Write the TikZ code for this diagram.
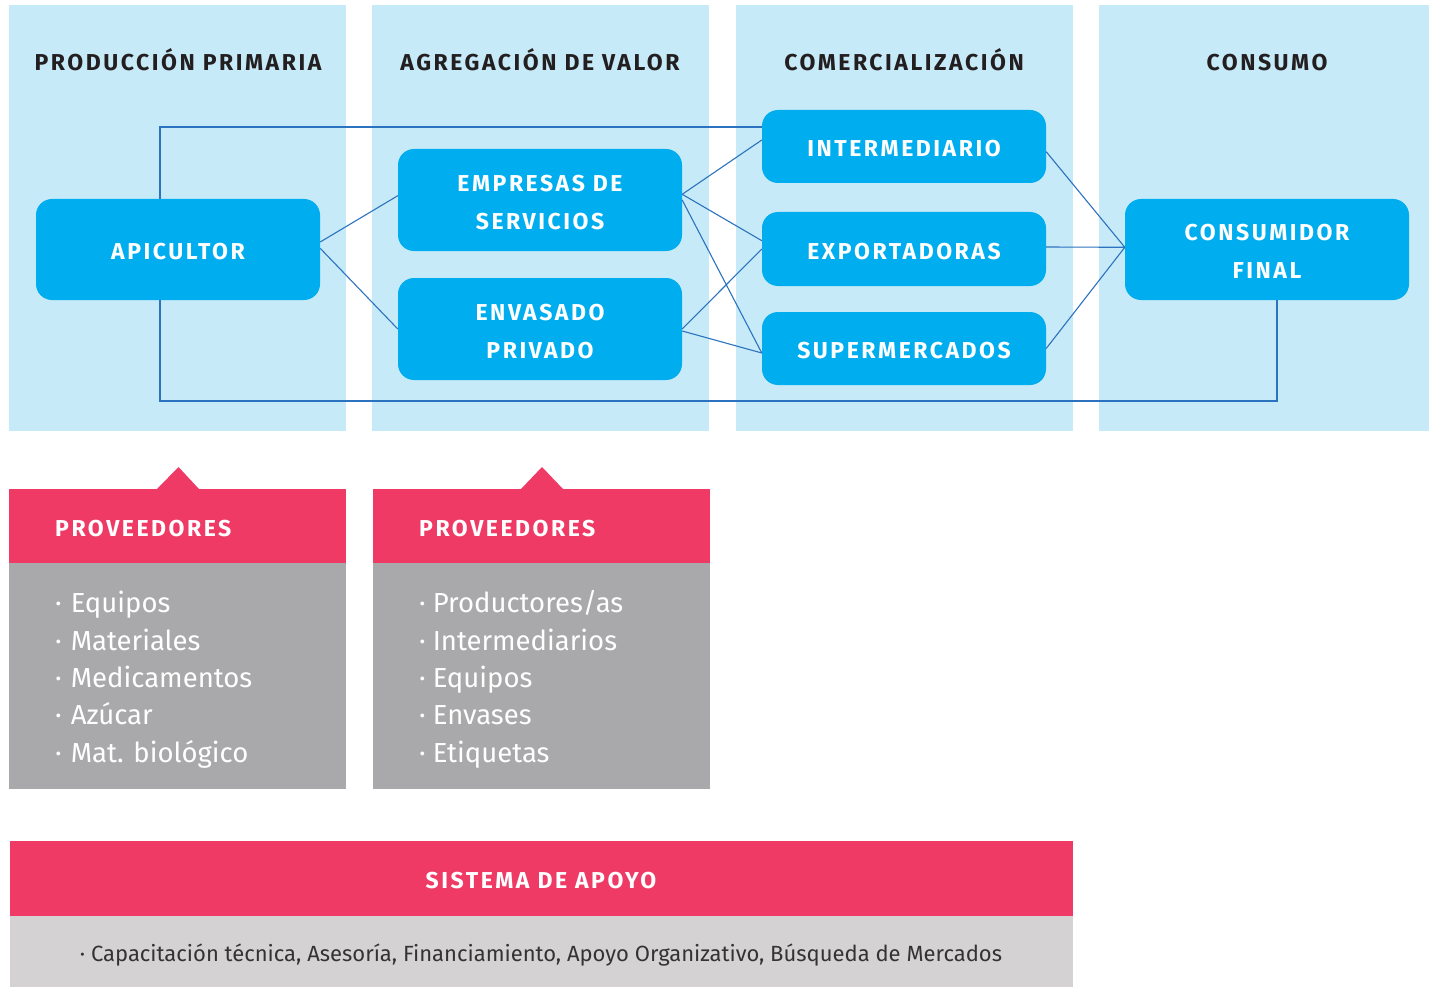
\documentclass[tikz,border=0pt]{standalone}
\usepackage{fontspec}
\setmainfont{Fira Sans}
\newfontfamily\capsfont[LetterSpace=11]{Fira Sans}
\usetikzlibrary{calc}
\definecolor{colbg}{HTML}{C7EAF9}
\definecolor{boxblue}{HTML}{00AEEF}
\definecolor{linkblue}{HTML}{2B73BE}
\definecolor{pinkc}{HTML}{EF3A66}
\definecolor{grayc}{HTML}{A9A9AB}
\definecolor{lgrayc}{HTML}{D4D2D3}
\definecolor{darktext}{HTML}{231F20}
\definecolor{bodytext}{HTML}{333333}
\tikzset{
  chainbox/.style={fill=boxblue, rounded corners=16pt, minimum width=284pt, inner sep=0pt, text=white, font=\capsfont\bfseries\fontsize{23}{38}\selectfont, align=center, text depth=0pt, text height=20.9pt},
  chainboxtwo/.style={chainbox, text height=58.9pt},
  colhead/.style={anchor=base, text=darktext, font=\capsfont\bfseries\fontsize{23}{28}\selectfont, inner sep=0pt},
  pinkhead/.style={anchor=base west, text=white, font=\capsfont\bfseries\fontsize{23}{28}\selectfont, inner sep=0pt},
  listitem/.style={anchor=base west, text=white, font=\fontsize{27.5}{30}\selectfont, inner sep=0pt},
  link/.style={draw=linkblue, line width=1.1pt}
}
\begin{document}
\begin{tikzpicture}[x=1pt,y=-1pt]
\useasboundingbox (0,0) rectangle (1429,987);
% columns
\fill[colbg] (9,5) rectangle (346,431);
\fill[colbg] (372,5) rectangle (709,431);
\fill[colbg] (736,5) rectangle (1073,431);
\fill[colbg] (1099,5) rectangle (1429,431);
% column headers
\node[colhead] (h1) at (178,70.5) {PRODUCCIÓN PRIMARIA};
\node[colhead] (h2) at (540,70.5) {AGREGACIÓN DE VALOR};
\node[colhead] (h3) at (904,70.5) {COMERCIALIZACIÓN};
\node[colhead] (h4) at (1267,70.5) {CONSUMO};
% boxes
\node[chainbox, minimum height=101pt] (api) at (178,249.5) {APICULTOR};
\node[chainboxtwo, minimum height=102pt] (emp) at (540,200) {EMPRESAS DE\\SERVICIOS};
\node[chainboxtwo, minimum height=102pt] (env) at (540,329) {ENVASADO\\PRIVADO};
\node[chainbox, minimum height=73pt] (int) at (904,146.5) {INTERMEDIARIO};
\node[chainbox, minimum height=74pt] (exp) at (904,249) {EXPORTADORAS};
\node[chainbox, minimum height=73pt] (sup) at (904,348.5) {SUPERMERCADOS};
\node[chainboxtwo, minimum height=101pt] (con) at (1267,249.5) {CONSUMIDOR\\FINAL};
% connectors
\coordinate (low) at (0,401);
\coordinate (apitop) at ([xshift=-18pt]api.north);
\coordinate (apibot) at ([xshift=-18pt]api.south);
\coordinate (conbot) at ([xshift=10pt]con.south);
\coordinate (conin) at ([yshift=2.2pt]con.west);
\draw[link] (apitop) |- ([yshift=19.5pt]int.west);
\draw[link] (apibot) |- (conbot |- low) -- (conbot);
\draw[link] ([yshift=7.5pt]api.east) -- ([yshift=4.3pt]emp.west);
\draw[link] ([yshift=1.2pt]api.east) -- (env.west);
\draw[link] ([yshift=5.7pt]emp.east) -- ([yshift=6.5pt]int.west);
\draw[link] ([yshift=5.7pt]emp.east) -- ([yshift=8.3pt]exp.west);
\draw[link] (emp.east) -- ([yshift=-4.5pt]sup.west);
\draw[link] (env.east) -- (exp.west);
\draw[link] ([yshift=-2pt]env.east) -- ([yshift=-4.5pt]sup.west);
\draw[link] ([yshift=-5.2pt]int.east) -- (conin);
\draw[link] ([yshift=2pt]exp.east) -- (conin);
\draw[link] (sup.east) -- (conin);
% proveedores 1
\fill[grayc] (9,563) rectangle (346,789);
\fill[pinkc] (9,489) rectangle (346,563);
\fill[pinkc] (157,489) -- (178.5,467) -- (199,489) -- cycle;
\node[pinkhead] (p1h) at (55,536) {PROVEEDORES};
\node[listitem] (p1a) at (55,612) {·\hspace{9pt}Equipos};
\node[listitem] (p1b) at (55,650) {·\hspace{9pt}Materiales};
\node[listitem] (p1c) at (55,687) {·\hspace{9pt}Medicamentos};
\node[listitem] (p1d) at (55,724) {·\hspace{9pt}Azúcar};
\node[listitem] (p1e) at (55,762) {·\hspace{9pt}Mat. biológico};
% proveedores 2
\fill[grayc] (373,563) rectangle (710,789);
\fill[pinkc] (373,489) rectangle (710,563);
\fill[pinkc] (521,489) -- (542,467) -- (563,489) -- cycle;
\node[pinkhead] (p2h) at (419,536) {PROVEEDORES};
\node[listitem] (p2a) at (419,612) {·\hspace{7pt}Productores/as};
\node[listitem] (p2b) at (419,650) {·\hspace{7pt}Intermediarios};
\node[listitem] (p2c) at (419,687) {·\hspace{7pt}Equipos};
\node[listitem] (p2d) at (419,724) {·\hspace{7pt}Envases};
\node[listitem] (p2e) at (419,762) {·\hspace{7pt}Etiquetas};
% sistema de apoyo
\fill[pinkc] (10,841) rectangle (1073,916);
\fill[lgrayc] (10,916) rectangle (1073,987);
\node[colhead, text=white] (sah) at (541,888) {SISTEMA DE APOYO};
\node[anchor=base, inner sep=0pt, text=bodytext, font=\fontsize{22}{26}\selectfont] (sab) at (541,961.5) {·\ Capacitación técnica, Asesoría, Financiamiento, Apoyo Organizativo, Búsqueda de Mercados};
\end{tikzpicture}
\end{document}
